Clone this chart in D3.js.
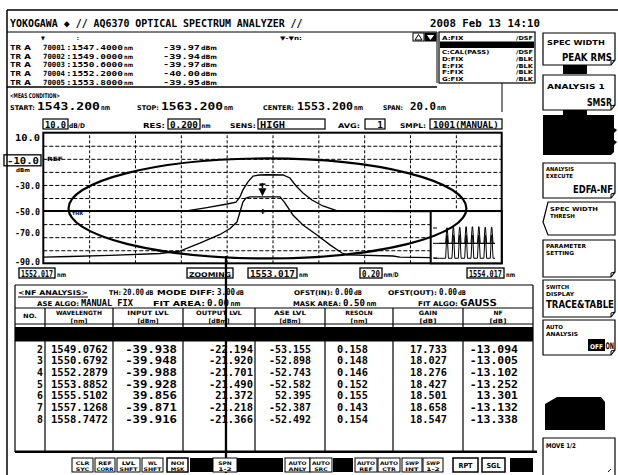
<!DOCTYPE html>
<html><head><meta charset="utf-8">
<script src="https://cdn.jsdelivr.net/npm/d3@7/dist/d3.min.js"></script>
<style>html,body{margin:0;padding:0;background:#fff;}svg{display:block;}</style>
</head><body>
<svg id="c" width="618" height="475"></svg>
<script>
// ---------------- data ----------------
const titleText = "YOKOGAWA \u25C6 // AQ6370 OPTICAL SPECTRUM ANALYZER //";
const dateText = "2008 Feb 13 14:10";
const markerIds = ["70001", "70002", "70003", "70004", "70005"];
const markerWl = ["1547.4000", "1549.0000", "1550.6000", "1552.2000", "1553.8000"];
const markerLvl = ["-39.97", "-39.94", "-39.97", "-40.00", "-39.95"];
const traceRows = [["A:FIX", "/DSF"], ["B:WRITE", "/DSP"], ["C:CAL(PASS)", "/DSF"], ["D:FIX", "/BLK"], ["E:FIX", "/BLK"], ["F:FIX", "/BLK"], ["G:FIX", "/BLK"]];
const measStart = "1543.200", measStop = "1563.200", measCenter = "1553.200", measSpan = "20.0";

const yTickValues = [10, -10, -30, -50, -70, -90];
const yTickLabels = ["10.0", "-10.0", "-30.0", "-50.0", "-70.0", "-90.0"];
const yGridValues = [0, -10, -20, -30, -40, -60, -70, -80];
const thresholdDbm = -50;
const xStartNm = 1552.017, xStopNm = 1554.017, xDivNm = 0.2;
const xLabels = ["1552.017", "1553.017", "1554.017"];

// output (amplified) trace, zoomed view
const outWl  = [1552.017, 1552.400, 1552.635, 1552.731, 1552.819, 1552.858, 1552.875, 1552.888, 1552.910, 1552.932, 1552.960, 1552.990, 1553.063, 1553.093, 1553.120, 1553.150, 1553.189, 1553.237, 1553.303, 1553.400, 1553.705];
const outDbm = [-50.3, -50.2, -50.0, -47.3, -44.6, -43.1, -39.2, -33.8, -27.7, -23.2, -22.4, -22.2, -22.4, -24.7, -30.8, -36.1, -41.5, -46.1, -50.0, -50.3, -50.4];
// input trace, zoomed view
const inWl  = [1552.017, 1552.133, 1552.308, 1552.526, 1552.613, 1552.700, 1552.788, 1552.832, 1552.862, 1552.875, 1552.888, 1552.901, 1552.919, 1553.050, 1553.071, 1553.106, 1553.150, 1553.211, 1553.268, 1553.320, 1553.342, 1553.543, 1553.573, 1553.705];
const inDbm = [-85.2, -84.8, -84.0, -82.5, -80.6, -74.5, -67.9, -63.4, -58.4, -50.7, -43.1, -40.0, -39.2, -39.2, -43.8, -53.0, -60.7, -68.3, -75.9, -82.1, -83.6, -84.4, -85.2, -85.6];
const peakMarker = [1552.973, -38.6];
const centerMark = [1552.975, -50.4];
// annotation ellipse (centre, radii) in data units
const ellipseCenter = [1552.995, -48.0], ellipseRadius = [0.868, 38.3];
const cursorNm = 1552.814;

// overview inset (full span)
const channelWl = [1547.47, 1549.0762, 1550.6792, 1552.2879, 1553.8852, 1555.5102, 1557.1268, 1558.7472];
const chOutPeak = [-26, -25, -25, -24, -24, -24, -25, -25];
const chInPeak  = [-40, -40, -40, -40, -40, -40, -40, -40];
const outFloor = -55, inFloor = -83;

// NF analysis table
const colHead1 = ["NO.", "WAVELENGTH", "INPUT LVL", "OUTPUT LVL", "ASE LVL", "RESOLN", "GAIN", "NF"];
const colHead2 = ["", "[nm]", "[dBm]", "[dBm]", "[dBm]", "[nm]", "[dB]", "[dB]"];
const rowNo = ["2", "3", "4", "5", "6", "7", "8"];
const colWave = ["1549.0762", "1550.6792", "1552.2879", "1553.8852", "1555.5102", "1557.1268", "1558.7472"];
const colIn   = ["-39.938", "-39.948", "-39.988", "-39.928", "39.856", "-39.871", "-39.916"];
const colOut  = ["-22.194", "-21.920", "-21.701", "-21.490", "21.372", "-21.218", "-21.366"];
const colAse  = ["-53.155", "-52.898", "-52.743", "-52.582", "52.395", "-52.387", "-52.492"];
const colRes  = ["0.158", "0.148", "0.146", "0.152", "0.155", "0.143", "0.154"];
const colGain = ["17.733", "18.027", "18.276", "18.427", "18.501", "18.658", "18.547"];
const colNf   = ["-13.094", "-13.005", "-13.102", "-13.252", "13.301", "-13.132", "-13.338"];

const softKeys = [
  {small: ["SPEC WIDTH"], big: "PEAK RMS"},
  {small: ["ANALYSIS 1"], big: "SMSR"},
  {small: ["ANALYSIS", "EXECUTE"], big: "EDFA-NF"},
  {small: ["SPEC WIDTH", "THRESH"], big: ""},
  {small: ["PARAMETER", "SETTING"], big: ""},
  {small: ["SWITCH", "DISPLAY"], big: "TRACE&TABLE"},
  {small: ["AUTO", "ANALYSIS"], big: "ON"},
  {small: ["MOVE 1/2"], big: ""}
];
const bottomKeys = [["CLR","SYC"],["REF","CORR"],["LVL","SHFT"],["WL","SHFT"],["NOI","MSK"],null,["SPN","1-2"],null,null,["AUTO","ANLY"],["AUTO","SRC"],null,["AUTO","REF"],["AUTO","CTR"],["SWP","INT"],["SWP","1-2"],["RPT"],["SGL"],null];

// ---------------- drawing ----------------
const MONO = "'DejaVu Sans Mono','Liberation Mono',monospace";
const COND = "'DejaVu Sans Condensed','DejaVu Sans',sans-serif";
const svg = d3.select('#c');

// text scaled horizontally to an exact width (keeps pixel-font look)
function txt(x, y, s, o = {}) {
  const t = svg.append('text').attr('x', 0).attr('y', 0).text(s)
    .attr('font-size', o.fs || 9).attr('font-family', o.ff || MONO)
    .attr('font-weight', o.fw || 'bold').attr('fill', o.fill || '#000');
  const w0 = t.node().getComputedTextLength() || 1;
  const w = o.w || w0;
  const left = o.anchor === 'end' ? x - w : (o.anchor === 'middle' ? x - w / 2 : x);
  t.attr('transform', `translate(${left},${y}) scale(${w / w0},1)`);
  return t;
}
function box(x, y, w, h, o = {}) {
  return svg.append('rect').attr('x', x).attr('y', y).attr('width', w).attr('height', h)
    .attr('fill', o.fill || 'none').attr('stroke', o.stroke === undefined ? '#000' : o.stroke)
    .attr('stroke-width', o.sw || 1);
}
function ln(x1, y1, x2, y2, sw = 1, o = {}) {
  const l = svg.append('line').attr('x1', x1).attr('y1', y1).attr('x2', x2).attr('y2', y2)
    .attr('stroke', '#000').attr('stroke-width', sw);
  if (o.dash) l.attr('stroke-dasharray', o.dash);
  return l;
}

// outer frame
ln(7, 10, 618, 10, 1.5);
ln(7, 10, 7, 475, 1.5);

// title
txt(10, 27, titleText, {fs: 10.5, w: 293});
txt(430, 27, dateText, {fs: 10.5, w: 110});

// marker box
ln(7, 32, 437, 32, 1);
ln(7, 87, 437, 87, 1.5);
txt(41, 39.5, "\u25BC", {fs: 5.5, ff: COND});
txt(76, 39.5, ":", {fs: 6});
txt(280, 39.5, "\u25BC-\u25BCn:", {fs: 5.5, ff: COND, w: 22});
const mkBase = [50, 58.7, 67.4, 76.1, 84.8];
markerIds.forEach((id, i) => {
  const b = mkBase[i];
  txt(10, b, "TR", {fs: 7.2, w: 11});
  txt(24, b, "A", {fs: 7.2, w: 7});
  txt(43, b, id, {fs: 7.2, w: 22});
  txt(66, b, ":" + markerWl[i], {fs: 7.2, w: 57});
  txt(124, b, "nm", {fs: 6, ff: COND, w: 9});
  txt(163, b, markerLvl[i], {fs: 7.2, w: 37});
  txt(201, b, "dBm", {fs: 6, ff: COND, w: 16});
});
// up / down icons
box(413, 33, 11, 8, {sw: 1});
svg.append('path').attr('d', 'M415,40 L418.5,34.5 L422,40 Z').attr('fill', 'none').attr('stroke', '#000');
box(425, 33, 11, 8, {fill: '#000'});
svg.append('path').attr('d', 'M427,35 L430.5,40 L434,35 Z').attr('fill', '#fff');

// trace box
box(439, 32, 96, 51, {sw: 1.2});
ln(437, 32, 437, 83, 1);
const trBase = [40, 46.5, 54, 61, 67.5, 74, 81];
traceRows.forEach((r, i) => {
  if (i === 1) { box(440, 41.5, 94, 6.5, {fill: '#000', stroke: 'none'}); return; }
  txt(442, trBase[i], r[0], {fs: 5.5, ff: COND, w: r[0].length * 4.3});
  txt(533, trBase[i], r[1], {fs: 5.5, ff: COND, anchor: 'end', w: 17});
});

// meas condition
ln(502, 83, 502, 112, 1);
txt(10, 98, "<MEAS CONDITION>", {fs: 6.5, ff: COND, w: 50});
txt(10, 110, "START:", {fs: 6.5, ff: COND, w: 25});
txt(37, 110, measStart, {fs: 10.5, w: 63});
txt(101, 110, "nm", {fs: 7, ff: COND, w: 9});
txt(137, 110, "STOP:", {fs: 6.5, ff: COND, w: 22});
txt(161, 110, measStop, {fs: 10.5, w: 62});
txt(224, 110, "nm", {fs: 7, ff: COND, w: 9});
txt(263, 110, "CENTER:", {fs: 6.5, ff: COND, w: 31});
txt(297, 110, measCenter, {fs: 10.5, w: 56});
txt(354, 110, "nm", {fs: 7, ff: COND, w: 9});
txt(383, 110, "SPAN:", {fs: 6.5, ff: COND, w: 20});
txt(410, 110, measSpan, {fs: 10.5, w: 26});
txt(437, 110, "nm", {fs: 7, ff: COND, w: 9});

// graph header
box(43, 119, 25, 10, {sw: 1.2});
txt(45, 128, "10.0", {fs: 9.5, w: 21});
txt(69, 128, "dB/D", {fs: 6.5, ff: COND, w: 16});
txt(143, 128, "RES:", {fs: 6.5, ff: COND, w: 22});
box(168, 119, 32, 10, {sw: 1.2});
txt(170, 128, "0.200", {fs: 9.5, w: 28});
txt(201.5, 128, "nm", {fs: 6.5, ff: COND, w: 9});
txt(230, 128, "SENS:", {fs: 6.5, ff: COND, w: 26});
box(258, 119, 67, 10, {sw: 1.2});
txt(260, 128, "HIGH", {fs: 9.5, w: 25});
txt(338, 128, "AVG:", {fs: 6.5, ff: COND, w: 22});
box(365, 119, 20, 10, {sw: 1.2});
txt(383, 128, "1", {fs: 9.5, anchor: 'end'});
txt(400, 128, "SMPL:", {fs: 6.5, ff: COND, w: 26});
box(430, 119, 72, 10, {sw: 1.2});
txt(433, 128, "1001(MANUAL)", {fs: 9.5, w: 66});

// plot scales
const X0 = 43.3, X1 = 501.7, Y0 = 132.7, Y1 = 263.3;
const x = d3.scaleLinear().domain([xStartNm, xStopNm]).range([X0, X1]);
const y = d3.scaleLinear().domain([10, -90]).range([Y0, Y1]);

// grid via axes
const gridNm = d3.range(1, 10).map(i => xStartNm + i * xDivNm);
const gx = svg.append('g').attr('transform', `translate(0,${Y1})`)
  .call(d3.axisBottom(x).tickValues(gridNm).tickSize(-(Y1 - Y0)).tickFormat(''));
gx.select('.domain').remove();
gx.selectAll('text').remove();
gx.selectAll('line').attr('stroke', '#000').attr('stroke-width', 1).attr('stroke-dasharray', '3,2');
const gy = svg.append('g').attr('transform', `translate(${X0},0)`)
  .call(d3.axisLeft(y).tickValues(yGridValues).tickSize(-(X1 - X0)).tickFormat(''));
gy.select('.domain').remove();
gy.selectAll('text').remove();
gy.selectAll('line').attr('stroke', '#000').attr('stroke-width', 1).attr('stroke-dasharray', '4,2');
// threshold line
ln(X0, y(thresholdDbm), X1, y(thresholdDbm), 2);
// plot border
box(X0, Y0, X1 - X0, Y1 - Y0, {sw: 2});

// y labels
yTickValues.forEach((v, i) => {
  if (v === -10) {
    box(4, y(v) - 4, 37, 11, {sw: 1.3});
    txt(39, y(v) + 5.5, yTickLabels[i], {fs: 9.5, anchor: 'end', w: 32});
    txt(16, y(v) + 13, "dBm", {fs: 5.5, ff: COND, w: 14});
    return;
  }
  let yy = y(v) + 4;
  if (v === 10) yy = y(v) + 8.5;
  if (v === -90) yy = y(v) + 2;
  if (v === -70) yy = y(v) - 1;
  txt(40, yy, yTickLabels[i], {fs: 9.5, anchor: 'end', w: 25});
});
txt(47, y(-10) + 2.5, "REF", {fs: 6, ff: COND, w: 16});
txt(72, y(-50) + 4, "THR", {fs: 4.5, ff: COND, w: 11});

// traces
const line = d3.line().x(d => x(d[0])).y(d => y(d[1]));
svg.append('path').attr('d', line(outWl.map((w, i) => [w, outDbm[i]])))
  .attr('fill', 'none').attr('stroke', '#000').attr('stroke-width', 1.3);
svg.append('path').attr('d', line(inWl.map((w, i) => [w, inDbm[i]])))
  .attr('fill', 'none').attr('stroke', '#000').attr('stroke-width', 1.3);

// marker
const mx = x(peakMarker[0]), my = y(peakMarker[1]);
svg.append('path').attr('d', `M${mx - 4},${my - 8} L${mx + 4},${my - 8} L${mx},${my} Z`).attr('fill', '#000');
ln(mx, my - 13, mx, my - 8, 1.5);
ln(mx - 3, my - 12, mx + 3, my - 12, 1.5);
const cx = x(centerMark[0]), cy = y(centerMark[1]);
ln(cx - 2.5, cy, cx + 2.5, cy, 1.3); ln(cx, cy - 2.5, cx, cy + 2.5, 1.3);

// inset overview
const IX0 = 430.7, IY0 = y(thresholdDbm);
box(IX0, IY0, X1 - IX0, Y1 - IY0, {fill: '#fff', sw: 2});
const ix = d3.scaleLinear().domain([1543.2, 1563.2]).range([430.1, 509.3]);
const iy = d3.scaleLinear().domain([0, -90]).range([214, 262]);
ln(433, iy(outFloor), ix(1559.6), iy(outFloor), 1);
[228, 258].forEach(t => ln(433, t, 437, t, 1));
const spikes = (peaks, floor) => {
  const pts = [[1545.5, floor]];
  channelWl.forEach((c, i) => { pts.push([c - 0.35, floor], [c - 0.06, peaks[i]], [c + 0.06, peaks[i]], [c + 0.35, floor]); });
  pts.push([1559.6, floor]);
  return d3.line().x(d => ix(d[0])).y(d => iy(d[1]))(pts);
};
svg.append('path').attr('d', spikes(chOutPeak, outFloor)).attr('fill', 'none').attr('stroke', '#000').attr('stroke-width', 1);
svg.append('path').attr('d', spikes(chInPeak, inFloor)).attr('fill', 'none').attr('stroke', '#000').attr('stroke-width', 1);
ln(434, iy(inFloor), ix(1545.5), iy(inFloor), 1);

// annotation ellipse
svg.append('ellipse').attr('cx', x(ellipseCenter[0])).attr('cy', y(ellipseCenter[1]))
  .attr('rx', x(ellipseCenter[0] + ellipseRadius[0]) - x(ellipseCenter[0]))
  .attr('ry', y(ellipseCenter[1] - ellipseRadius[1]) - y(ellipseCenter[1]))
  .attr('fill', 'none').attr('stroke', '#000').attr('stroke-width', 2.2);

// x labels below
box(19, 268, 36, 10, {sw: 1.3});
txt(21, 277, xLabels[0], {fs: 9.5, w: 32});
txt(57, 277, "nm", {fs: 6.5, ff: COND, w: 9});
box(187, 268, 46, 10, {sw: 1.3});
txt(189, 276.5, "ZOOMING", {fs: 6.5, ff: COND, w: 42});
box(248, 268, 49, 10, {sw: 1.3});
txt(250, 277, xLabels[1], {fs: 9.5, w: 45});
txt(299, 277, "nm", {fs: 6.5, ff: COND, w: 9});
box(360, 268, 22, 10, {sw: 1.3});
txt(362, 277, xDivNm.toFixed(2), {fs: 9.5, w: 18});
txt(383.5, 277, "nm/D", {fs: 6.5, ff: COND, w: 15});
box(467, 268, 37, 10, {sw: 1.3});
txt(469, 277, xLabels[2], {fs: 9.5, w: 33});
txt(506, 277, "nm", {fs: 6.5, ff: COND, w: 9});

// NF analysis box
ln(15, 285, 533, 285, 1.2);
ln(15, 285, 15, 452, 1.2);
ln(533, 285, 533, 452, 1.2);
txt(18, 295, "<NF ANALYSIS>", {fs: 6.5, ff: COND, w: 70});
ln(18, 297, 88, 297, 1);
txt(109, 295, "TH:", {fs: 6.5, ff: COND, w: 12});
txt(123, 295, "20.00", {fs: 8.8, w: 21}); txt(145.5, 295, "dB", {fs: 6.5, ff: COND, w: 8});
txt(157, 295, "MODE DIFF:", {fs: 6.5, ff: COND, w: 58});
txt(217, 295, "3.00", {fs: 8.8, w: 18}); txt(236, 295, "dB", {fs: 6.5, ff: COND, w: 8});
txt(294, 295, "OFST(IN):", {fs: 6.5, ff: COND, w: 39});
txt(335, 295, "0.00", {fs: 8.8, w: 18}); txt(354, 295, "dB", {fs: 6.5, ff: COND, w: 8});
txt(388, 295, "OFST(OUT):", {fs: 6.5, ff: COND, w: 49});
txt(439, 295, "0.00", {fs: 8.8, w: 18}); txt(458, 295, "dB", {fs: 6.5, ff: COND, w: 8});
txt(37, 306, "ASE ALGO:", {fs: 6.5, ff: COND, w: 42});
txt(81, 306, "MANUAL FIX", {fs: 8.8, w: 52});
txt(153, 306, "FIT AREA:", {fs: 6.5, ff: COND, w: 52});
txt(207, 306, "0.00", {fs: 8.8, w: 22}); txt(230.5, 306, "nm", {fs: 7, ff: COND, w: 10});
txt(293, 306, "MASK AREA:", {fs: 6.5, ff: COND, w: 48});
txt(343, 306, "0.50", {fs: 8.8, w: 22}); txt(366.5, 306, "nm", {fs: 7, ff: COND, w: 10});
txt(418, 306, "FIT ALGO:", {fs: 6.5, ff: COND, w: 40});
txt(460, 306, "GAUSS", {fs: 8.8, w: 37});

// table
const colX = [15, 45, 113, 183, 255, 325, 393, 463, 533];
ln(15, 308, 533, 308, 1.2);
ln(15, 324, 533, 324, 1.2);
colX.slice(1, -1).forEach(cxp => ln(cxp, 308, cxp, 451, 1.2));
colHead1.forEach((h, i) => {
  const mid = (colX[i] + colX[i + 1]) / 2;
  txt(mid, i === 0 ? 318 : 315, h, {fs: 6, ff: COND, anchor: 'middle', w: h.length * 4.6});
  if (colHead2[i]) txt(mid, 322.5, colHead2[i], {fs: 5.8, ff: COND, anchor: 'middle', w: colHead2[i].length * 4.2});
});
box(15, 327, 518, 14.5, {fill: '#000', stroke: 'none'});
const rowBase = [352.5, 364.2, 375.9, 387.6, 399.3, 411, 422.7];
rowNo.forEach((n, i) => {
  const b = rowBase[i];
  txt(43, b, n, {fs: 9.8, anchor: 'end'});
  txt(51, b, colWave[i], {fs: 9.8, w: 57});
  txt(177, b, colIn[i], {fs: 9.8, anchor: 'end', w: colIn[i].length * 7.4});
  txt(253, b, colOut[i], {fs: 9.8, anchor: 'end', w: colOut[i].length * 6.3});
  txt(311, b, colAse[i], {fs: 9.8, anchor: 'end', w: colAse[i].length * 6.0});
  txt(368, b, colRes[i], {fs: 9.8, anchor: 'end', w: 31});
  txt(447, b, colGain[i], {fs: 9.8, anchor: 'end', w: 37});
  txt(518, b, colNf[i], {fs: 9.8, anchor: 'end', w: colNf[i].length * 6.9});
});
ln(15, 451.7, 537, 451.7, 2.5);

// cursor annotation line
ln(x(cursorNm), 256, x(cursorNm), 473, 2.3);

// bottom keys
const bkX = [[72,93],[95,115],[117,140],[142,163],[167,188],[190,213],[213,237],[237,260],[260,283],[285,310],[310,332],[333,353],[355,377],[378,400],[402,422],[423,443],[453,478],[482,505],[510,533]];
bottomKeys.forEach((k, i) => {
  const [a, b] = bkX[i];
  if (!k) { box(a, 458, b - a, 14, {fill: '#000', stroke: 'none'}); return; }
  box(a, 458, b - a, 14, {fill: '#fff', sw: (i >= 16 || i === 4) ? 1.5 : 1});
  if (k.length === 2) {
    txt((a + b) / 2, 464.5, k[0], {fs: 4.9, ff: COND, anchor: 'middle', w: Math.min(b - a - 3, k[0].length * 4.5)});
    txt((a + b) / 2, 470.8, k[1], {fs: 4.9, ff: COND, anchor: 'middle', w: Math.min(b - a - 3, k[1].length * 4.5)});
  } else {
    txt((a + b) / 2, 468, k[0], {fs: 7, ff: COND, anchor: 'middle', w: 14});
  }
});

// right soft keys
function keyBox(y0, y1) {
  svg.append('path').attr('d', `M543,${y0} H615 V${y1 - 5} L611,${y1} H543 Z`)
    .attr('fill', '#fff').attr('stroke', '#000').attr('stroke-width', 1.2);
  svg.append('path').attr('d', `M611,${y1} L611,${y1 - 4} L615,${y1 - 5}`).attr('fill', 'none').attr('stroke', '#000').attr('stroke-width', 1);
}
// key 1
keyBox(33, 65);
txt(547, 45, softKeys[0].small[0], {fs: 7, ff: COND, w: 58});
txt(612, 61, softKeys[0].big, {fs: 10, ff: COND, anchor: 'end', w: 50});
box(563, 65, 24, 9, {fill: '#000', stroke: 'none'});
// key 2
keyBox(75, 110);
txt(547, 89, softKeys[1].small[0], {fs: 7, ff: COND, w: 58});
txt(612, 106, softKeys[1].big, {fs: 10, ff: COND, anchor: 'end', w: 25});
box(563, 110, 24, 6, {fill: '#000', stroke: 'none'});
// black key
svg.append('path').attr('d', 'M543,115 H614 V128 L617,130 L614,133 V140 L617,142 L614,145 V152 L611,155 H543 Z').attr('fill', '#000');
// key 3
keyBox(163, 198);
txt(546, 171, softKeys[2].small[0], {fs: 5.4, ff: COND, w: 28});
txt(546, 177.5, softKeys[2].small[1], {fs: 5.4, ff: COND, w: 27});
txt(613, 193, softKeys[2].big, {fs: 10, ff: COND, anchor: 'end', w: 40});
// key 4 (arrow)
svg.append('path').attr('d', 'M548,202 H615 V235 H548 L543,222 Z').attr('fill', '#fff').attr('stroke', '#000').attr('stroke-width', 1.2);
txt(550, 211, softKeys[3].small[0], {fs: 5.4, ff: COND, w: 48});
txt(550, 217.5, softKeys[3].small[1], {fs: 5.4, ff: COND, w: 25});
// key 5
keyBox(240, 277);
txt(546, 248, softKeys[4].small[0], {fs: 5.4, ff: COND, w: 40});
txt(546, 254.5, softKeys[4].small[1], {fs: 5.4, ff: COND, w: 28});
// key 6
keyBox(280, 317);
txt(546, 289, softKeys[5].small[0], {fs: 5.4, ff: COND, w: 23});
txt(546, 295.5, softKeys[5].small[1], {fs: 5.4, ff: COND, w: 28});
txt(546, 308, softKeys[5].big, {fs: 10, ff: COND, w: 68});
// key 7
keyBox(320, 355);
txt(546, 329, softKeys[6].small[0], {fs: 5.4, ff: COND, w: 17});
txt(546, 335.5, softKeys[6].small[1], {fs: 5.4, ff: COND, w: 32});
box(588, 339, 17, 12, {fill: '#000', stroke: 'none'});
txt(590, 348.5, "OFF", {fs: 6.5, ff: COND, fill: '#fff', w: 13});
txt(614, 349, softKeys[6].big, {fs: 9, ff: COND, anchor: 'end', w: 8.5});
// black pentagon
svg.append('path').attr('d', 'M545,430 L545,404 L557,397 L601,397 L605,402 L605,430 Z').attr('fill', '#000');
// move key
svg.append('path').attr('d', 'M543,475 V438 H615 V475').attr('fill', '#fff').attr('stroke', '#000').attr('stroke-width', 1.2);
txt(546, 448, softKeys[7].small[0], {fs: 6.5, ff: COND, w: 30});
ln(608, 472, 611, 469, 1);
</script>
</body></html>
